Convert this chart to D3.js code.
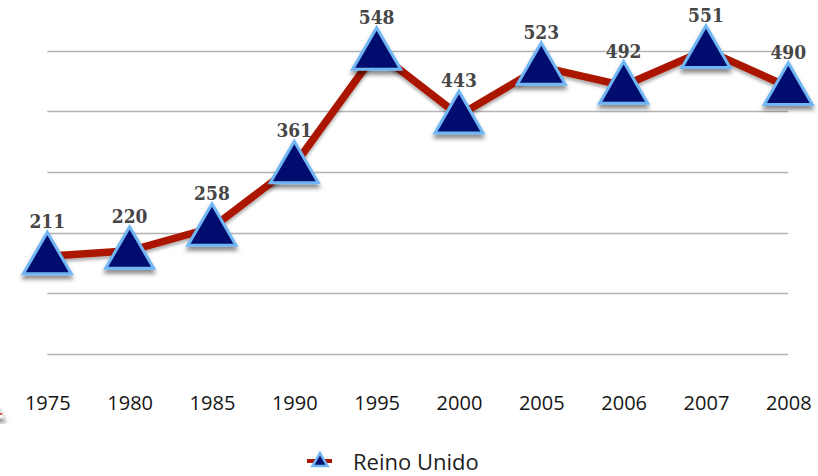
<!DOCTYPE html>
<html>
<head>
<meta charset="utf-8">
<script src="https://cdn.jsdelivr.net/npm/d3@7"></script>
<style>
  body { margin: 0; background: #fff; }
  svg { display: block; }
</style>
</head>
<body>
<script>
const width = 818;
const height = 476;

const years = ["1975", "1980", "1985", "1990", "1995", "2000", "2005", "2006", "2007", "2008"];
const reinoUnido = [211, 220, 258, 361, 548, 443, 523, 492, 551, 490];
const gridValues = [50, 150, 250, 350, 450, 550];
const seriesName = "Reino Unido";

let svg = d3.select("body")
    .append("svg")
    .attr("width", width)
    .attr("height", height);

let defs = svg.append("defs");

let shadow = defs.append("filter")
    .attr("id", "shadow")
    .attr("x", "-30%").attr("y", "-30%")
    .attr("width", "160%").attr("height", "170%");
shadow.append("feDropShadow")
    .attr("dx", 0).attr("dy", 4)
    .attr("stdDeviation", 2)
    .attr("flood-color", "#000")
    .attr("flood-opacity", 0.45);

let lineShadow = defs.append("filter")
    .attr("id", "lineShadow")
    .attr("x", "-10%").attr("y", "-10%")
    .attr("width", "120%").attr("height", "130%");
lineShadow.append("feDropShadow")
    .attr("dx", 0).attr("dy", 3)
    .attr("stdDeviation", 1.5)
    .attr("flood-color", "#000")
    .attr("flood-opacity", 0.3);

let x = d3.scalePoint()
    .domain(years)
    .range([47.3, 788.3]);

let y = d3.scaleLinear()
    .domain([50, 550])
    .range([354, 50.5]);

// gridlines
svg.append("g")
    .selectAll("line")
    .data(gridValues)
    .enter().append("line")
    .attr("x1", x.range()[0])
    .attr("x2", x.range()[1])
    .attr("y1", d => Math.round(y(d)) + 0.5)
    .attr("y2", d => Math.round(y(d)) + 0.5)
    .attr("stroke", "#b4b4b4")
    .attr("stroke-width", 1.5);

// x axis labels, no axis line
let xAxis = svg.append("g")
    .attr("transform", "translate(0,386)")
    .call(d3.axisBottom(x).tickSize(0).tickPadding(0));
xAxis.select(".domain").remove();
xAxis.selectAll("text")
    .attr("dy", "1.2em")
    .attr("fill", "#151515")
    .style("font-family", "'Open Sans', 'Noto Sans', sans-serif")
    .style("font-size", "20px");

let data = years.map((year, i) => ({ year, value: reinoUnido[i] }));

// line
let line = d3.line()
    .x(d => x(d.year))
    .y(d => y(d.value));

svg.append("path")
    .datum(data)
    .attr("d", line)
    .attr("fill", "none")
    .attr("stroke", "#aa1800")
    .attr("stroke-width", 7.5)
    .attr("stroke-linejoin", "round")
    .attr("filter", "url(#lineShadow)");

// triangle markers
let triangle = function(side, dy){
    let h = side * Math.sqrt(3) / 2;
    let top = dy - h / 2;
    let bottom = dy + h / 2;
    return "M0," + top + "L" + (side / 2) + "," + bottom + "L" + (-side / 2) + "," + bottom + "Z";
}

let markers = svg.append("g")
    .selectAll("g")
    .data(data)
    .enter().append("g")
    .attr("transform", d => "translate(" + x(d.year) + "," + y(d.value) + ")");

markers.append("path")
    .attr("d", triangle(48, -3.3))
    .attr("fill", "#06116e")
    .attr("stroke", "#70b6f4")
    .attr("stroke-width", 3)
    .attr("stroke-linejoin", "miter")
    .attr("filter", "url(#shadow)");

markers.append("text")
    .attr("y", -28)
    .attr("text-anchor", "middle")
    .attr("fill", "#464646")
    .style("font-family", "'DejaVu Serif Condensed', 'DejaVu Serif', serif")
    .style("font-stretch", "condensed")
    .style("font-weight", "bold")
    .style("font-size", "19px")
    .text(d => d.value);

// faint cut-off marker at the left edge
let edge = svg.append("g")
    .attr("transform", "translate(-3,411)");
edge.append("path")
    .attr("d", triangle(16, 0))
    .attr("fill", "#fff")
    .attr("stroke", "#ddd")
    .attr("stroke-width", 1.5)
    .attr("filter", "url(#shadow)");
edge.append("rect")
    .attr("x", 1).attr("y", 2)
    .attr("width", 4).attr("height", 2)
    .attr("fill", "#e05050");

// legend
let legend = svg.append("g")
    .attr("transform", "translate(320,461)");

legend.append("line")
    .attr("x1", -13).attr("x2", 12)
    .attr("y1", 0).attr("y2", 0)
    .attr("stroke", "#aa1800")
    .attr("stroke-width", 4);

legend.append("path")
    .attr("d", triangle(15, -1.5))
    .attr("fill", "#06116e")
    .attr("stroke", "#70b6f4")
    .attr("stroke-width", 2.5);

legend.append("text")
    .attr("x", 33)
    .attr("y", 9)
    .attr("fill", "#1e1e1e")
    .style("font-family", "'Open Sans', 'Noto Sans', sans-serif")
    .style("font-size", "22px")
    .text(seriesName);
</script>
</body>
</html>
